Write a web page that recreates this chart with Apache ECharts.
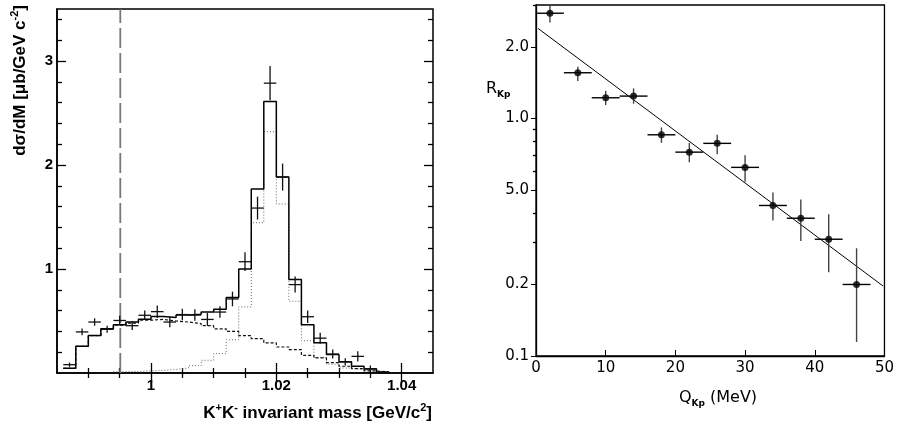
<!DOCTYPE html>
<html><head><meta charset="utf-8">
<script src="https://cdn.jsdelivr.net/npm/echarts@6/dist/echarts.min.js"></script>
<style>html,body{margin:0;padding:0;background:#fff}#c{width:897px;height:426px}</style>
</head><body><div id="c"></div>
<script>
// ---------- Left panel data ----------
const massBinLow = [0.986,0.988,0.990,0.992,0.994,0.996,0.998,1.000,1.002,1.004,1.006,1.008,1.010,1.012,1.014,1.016,1.018,1.020,1.022,1.024,1.026,1.028,1.030,1.032,1.034,1.036];
const massBinWidth = 0.002;
const totalFit = [0.045,0.257,0.36,0.425,0.464,0.49,0.518,0.544,0.534,0.557,0.566,0.586,0.612,0.725,1.0,1.77,2.61,1.884,0.90,0.464,0.29,0.177,0.109,0.064,0.039,0.01];
const bgFit    = [0.045,0.257,0.36,0.425,0.46,0.48,0.508,0.515,0.50,0.49,0.475,0.455,0.425,0.40,0.36,0.33,0.29,0.25,0.225,0.17,0.145,0.10,0.065,0.042,0.02,0.01];
const phiFit   = [null,null,null,null,0.012,0.015,0.02,0.025,0.035,0.048,0.07,0.122,0.186,0.32,0.635,1.445,2.32,1.625,0.69,0.31,0.15,0.085,0.048,0.032,0.016,0.005];
const massPts  = [0.987,0.989,0.991,0.993,0.995,0.997,0.999,1.001,1.003,1.005,1.007,1.009,1.011,1.013,1.015,1.017,1.019,1.021,1.023,1.025,1.027,1.029,1.031,1.033,1.035];
const xsecVals = [0.08,0.395,0.49,0.42,0.505,0.455,0.555,0.59,0.49,0.562,0.557,0.515,0.586,0.712,1.07,1.586,2.787,1.884,0.85,0.541,0.335,0.182,0.106,0.16,0.042];
const xsecErr  = [0.02,0.032,0.036,0.034,0.045,0.042,0.045,0.06,0.05,0.055,0.055,0.062,0.055,0.07,0.09,0.11,0.165,0.13,0.077,0.06,0.053,0.043,0.035,0.05,0.03];
const thresholdMass = 0.9951;
const xsecRange = [0, 3.5];
const massLabelTicks = [1, 1.02, 1.04];
const massMinorTicks = [0.99, 0.995, 1.005, 1.01, 1.015, 1.025, 1.03, 1.035];
const xsecLabelTicks = [1, 2, 3];
const xsecMinorTicks = [0.2,0.4,0.6,0.8,1.2,1.4,1.6,1.8,2.2,2.4,2.6,2.8,3.2,3.4];

// ---------- Right panel data ----------
const qBins = [2,6,10,14,18,22,26,30,34,38,42,46];
const qHalfWidth = 2;
const rVals = [2.77,1.556,1.221,1.241,0.853,0.721,0.785,0.622,0.430,0.380,0.310,0.200];
const rHigh = [3.0,1.65,1.306,1.337,0.916,0.789,0.853,0.700,0.488,0.456,0.395,0.284];
const rLow  = [2.53,1.436,1.138,1.152,0.789,0.654,0.707,0.541,0.372,0.305,0.225,0.1146];
const fitQ = [0.3, 49.8];
const fitR = [2.39, 0.197];
const rTickVals = [0.1, 0.2, 0.5, 1.0, 2.0];
const rTickLabels = ['0.1', '0.2', '5.0', '1.0', '2.0'];
const rMinorTicks = [0.3, 0.4, 0.6, 0.7, 0.8, 0.9, 3.0];

// ---------- build ----------
function histPoints(vals) {
  const pts = [];
  let last = null;
  for (let i = 0; i < massBinLow.length; i++) {
    if (vals[i] == null) continue;
    pts.push([massBinLow[i], vals[i]]);
    last = i;
  }
  pts.push([massBinLow[last] + massBinWidth, vals[last]]);
  return pts;
}
const crossData = massPts.map((m, i) => [m, xsecVals[i], xsecVals[i] - xsecErr[i], xsecVals[i] + xsecErr[i], massBinWidth / 2]);
const rErrData = qBins.map((q, i) => [q, rVals[i], rLow[i], rHigh[i], qHalfWidth]);

const FL = '"Liberation Sans", Arial, Helvetica, sans-serif';
const FR = '"DejaVu Sans", Verdana, sans-serif';
const BLACK = '#000';

function errRender(color, vColor, w) {
  return function (params, api) {
    const x = api.value(0), y = api.value(1), lo = api.value(2), hi = api.value(3), xe = api.value(4);
    const pL = api.coord([x - xe, y]), pR = api.coord([x + xe, y]);
    const pT = api.coord([x, hi]), pB = api.coord([x, lo]);
    return { type: 'group', children: [
      { type: 'line', shape: { x1: pL[0], y1: pL[1], x2: pR[0], y2: pR[1] }, style: { stroke: color, lineWidth: w } },
      { type: 'line', shape: { x1: pT[0], y1: pT[1], x2: pB[0], y2: pB[1] }, style: { stroke: vColor, lineWidth: w } }
    ]};
  };
}

const hiddenLab = { show: false };
const noLine = { show: false };
function tickAxis(base, vals, len, inside, extra) {
  return Object.assign({
    type: 'value', axisLine: noLine, splitLine: { show: false }, axisLabel: hiddenLab,
    axisTick: { show: true, inside: inside, length: len, customValues: vals, lineStyle: { color: BLACK, width: 1.3 } }
  }, base, extra || {});
}

const leftX = { gridIndex: 0, min: 0.985, max: 1.045 };
const leftY = { gridIndex: 0, min: xsecRange[0], max: xsecRange[1] };
const log3 = Math.log10(3);
const rightYv = { gridIndex: 1, min: -1, max: log3 };

const option = {
  animation: false,
  backgroundColor: '#fff',
  grid: [
    { left: 57, top: 9, width: 376, height: 364, show: true, borderColor: BLACK, borderWidth: 1.5, backgroundColor: 'transparent' },
    { left: 536, top: 5, width: 351, height: 351, show: true, borderColor: BLACK, borderWidth: 1.3, backgroundColor: 'transparent' }
  ],
  xAxis: [
    Object.assign({
      type: 'value', position: 'bottom', axisLine: { show: true, onZero: false, lineStyle: { color: BLACK, width: 1.5 } },
      splitLine: { show: false },
      axisTick: { show: true, inside: true, length: 10, customValues: massLabelTicks, lineStyle: { color: BLACK, width: 1.3 } },
      axisLabel: { show: true, customValues: massLabelTicks, margin: 5, color: BLACK, fontFamily: FL, fontWeight: 'bold', fontSize: 15 }
    }, leftX),
    tickAxis(leftX, massMinorTicks, 5, true, { position: 'bottom' }),
    tickAxis(leftX, massLabelTicks, 10, true, { position: 'top' }),
    tickAxis(leftX, massMinorTicks, 5, true, { position: 'top' }),
    {
      gridIndex: 1, type: 'value', min: 0, max: 50, interval: 10, position: 'bottom',
      axisLine: { show: true, onZero: false, lineStyle: { color: BLACK, width: 1.3 } },
      splitLine: { show: false },
      axisTick: { show: true, inside: true, length: 6, lineStyle: { color: BLACK, width: 1 } },
      axisLabel: { show: true, margin: 5, color: BLACK, fontFamily: FR, fontSize: 15 }
    }
  ],
  yAxis: [
    Object.assign({
      type: 'value', position: 'left', axisLine: { show: true, onZero: false, lineStyle: { color: BLACK, width: 1.5 } },
      splitLine: { show: false },
      axisTick: { show: true, inside: true, length: 9, customValues: xsecLabelTicks, lineStyle: { color: BLACK, width: 1.3 } },
      axisLabel: { show: true, customValues: xsecLabelTicks, margin: 4, color: BLACK, fontFamily: FL, fontWeight: 'bold', fontSize: 15 }
    }, leftY),
    tickAxis(leftY, xsecMinorTicks, 5, true, { position: 'left' }),
    tickAxis(leftY, xsecLabelTicks, 9, true, { position: 'right' }),
    tickAxis(leftY, xsecMinorTicks, 5, true, { position: 'right' }),
    {
      gridIndex: 1, type: 'log', logBase: 10, min: 0.1, max: 3.0, position: 'left',
      axisLine: { show: true, onZero: false, lineStyle: { color: BLACK, width: 1.3 } },
      axisTick: { show: false }, axisLabel: { show: false }, splitLine: { show: false }, minorTick: { show: false }
    },
    Object.assign({
      type: 'value', position: 'left', axisLine: noLine, splitLine: { show: false },
      axisTick: { show: true, inside: false, length: 5, customValues: rTickVals.map(v => Math.log10(v)), lineStyle: { color: BLACK, width: 1 } },
      axisLabel: {
        show: true, margin: 7, color: BLACK, fontFamily: FR, fontSize: 15,
        customValues: rTickVals.map(v => Math.log10(v)),
        formatter: function (val) {
          let best = 0, bd = Infinity;
          rTickVals.forEach((t, i) => { const d = Math.abs(Math.log10(t) - val); if (d < bd) { bd = d; best = i; } });
          return rTickLabels[best];
        }
      }
    }, rightYv),
    tickAxis(rightYv, rMinorTicks.map(v => Math.log10(v)), 3, false, { position: 'left' })
  ],
  graphic: [
    { type: 'text', x: 20, y: 5, rotation: Math.PI / 2, z: 100,
      style: { text: '{a|dσ/dM [μb/GeV c}{s|-2}{a|]}', align: 'right', textAlign: 'right', verticalAlign: 'middle', textVerticalAlign: 'middle',
        rich: { a: { fontSize: 17, fontWeight: 'bold', fontFamily: FL, fill: BLACK, lineHeight: 22 },
                s: { fontSize: 11, fontWeight: 'bold', fontFamily: FL, fill: BLACK, verticalAlign: 'top', lineHeight: 13 } } } },
    { type: 'text', x: 432, y: 413, z: 100,
      style: { text: '{a|K}{s|+}{a|K}{s|-}{a| invariant mass [GeV/c}{s|2}{a|]}', align: 'right', textAlign: 'right', verticalAlign: 'middle', textVerticalAlign: 'middle',
        rich: { a: { fontSize: 17, fontWeight: 'bold', fontFamily: FL, fill: BLACK, lineHeight: 22 },
                s: { fontSize: 11, fontWeight: 'bold', fontFamily: FL, fill: BLACK, verticalAlign: 'top', lineHeight: 13 } } } },
    { type: 'text', x: 486, y: 89, z: 100,
      style: { text: '{a|R}{b|Kp}', align: 'left', textAlign: 'left', verticalAlign: 'middle', textVerticalAlign: 'middle',
        rich: { a: { fontSize: 16, fontFamily: FR, fill: BLACK, lineHeight: 20 },
                b: { fontSize: 9, fontWeight: 'bold', fontFamily: FR, fill: BLACK, verticalAlign: 'bottom', lineHeight: 12 } } } },
    { type: 'text', x: 718, y: 398, z: 100,
      style: { text: '{a|Q}{b|Kp}{a| (MeV)}', align: 'center', textAlign: 'center', verticalAlign: 'middle', textVerticalAlign: 'middle',
        rich: { a: { fontSize: 16, fontFamily: FR, fill: BLACK, lineHeight: 20 },
                b: { fontSize: 9, fontWeight: 'bold', fontFamily: FR, fill: BLACK, verticalAlign: 'bottom', lineHeight: 12 } } } }
  ],
  series: [
    { type: 'line', xAxisIndex: 0, yAxisIndex: 0, data: [[thresholdMass, xsecRange[0]], [thresholdMass, xsecRange[1]]], showSymbol: false, z: 2,
      lineStyle: { color: '#777', width: 1.8, type: [20, 5] } },
    { type: 'line', xAxisIndex: 0, yAxisIndex: 0, step: 'end', data: histPoints(phiFit), showSymbol: false, z: 3,
      lineStyle: { color: '#666', width: 1, type: [1, 2] } },
    { type: 'line', xAxisIndex: 0, yAxisIndex: 0, step: 'end', data: histPoints(bgFit), showSymbol: false, z: 3,
      lineStyle: { color: '#111', width: 1.2, type: [3, 2] } },
    { type: 'line', xAxisIndex: 0, yAxisIndex: 0, step: 'end', data: histPoints(totalFit), showSymbol: false, z: 4,
      lineStyle: { color: BLACK, width: 1.5 } },
    { type: 'custom', xAxisIndex: 0, yAxisIndex: 0, data: crossData, z: 5, renderItem: errRender('#111', '#111', 1.3) },
    { type: 'custom', xAxisIndex: 4, yAxisIndex: 4, data: rErrData, z: 5, renderItem: errRender('#000', '#444', 1.4) },
    { type: 'line', xAxisIndex: 4, yAxisIndex: 4, data: fitQ.map((q, i) => [q, fitR[i]]), showSymbol: false, z: 4,
      lineStyle: { color: BLACK, width: 1 } },
    { type: 'scatter', xAxisIndex: 4, yAxisIndex: 4, data: qBins.map((q, i) => [q, rVals[i]]), symbol: 'circle', symbolSize: 7, z: 6,
      itemStyle: { color: BLACK } }
  ]
};
const chart = echarts.init(document.getElementById('c'), null, { renderer: 'canvas' });
chart.setOption(option);
</script>
</body></html>
